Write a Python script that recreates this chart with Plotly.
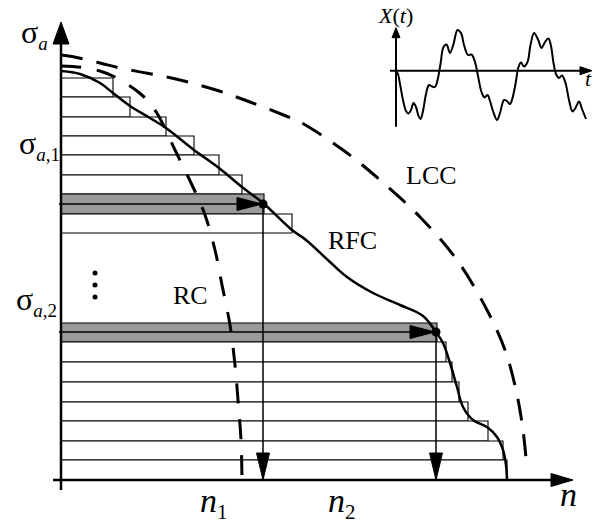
import plotly.graph_objects as go

# ---------------- data (chart units: n to the right, sigma upward) ----------------
# upper block of rectangles: row edges (top -> bottom) and lengths
upper_edges = [402, 383, 363, 344, 325, 305, 286, 266, 247]
upper_lengths = [52, 69, 105, 133, 158, 181, 203, 231]
upper_gray = [False, False, False, False, False, False, True, False]
# lower block of rectangles
lower_edges = [157, 138, 118, 98, 78, 59, 39, 20, 0]
lower_lengths = [376, 385, 391, 398, 407, 427, 442, 446]
lower_gray = [True, False, False, False, False, False, False, False]

# curves
rfc_n = [0.5, 19, 39, 52, 69, 89, 105, 133, 158, 181, 202, 231, 245, 269, 286, 312, 339, 362, 375, 382, 389, 396, 402, 412, 426, 436, 442, 445, 446]
rfc_s = [409, 406, 397, 387, 374, 362, 352, 330, 312, 293, 277, 250, 240, 218, 203, 187, 175, 164, 148, 137, 117, 93, 73, 60, 53, 43, 30, 15, 0]
rc_n = [0, 22, 39, 54, 66, 76, 86, 97, 115, 131, 144, 154, 161, 169, 174, 177, 180, 181]
rc_s = [414, 412.5, 409, 403, 396, 389, 380, 365, 328, 295, 265, 230, 195, 155, 115, 80, 40, 0]
lcc_n = [0, 11, 39, 59, 85, 119, 155, 189, 225, 239, 282, 319, 359, 396, 426, 444, 455, 462, 466]
lcc_s = [425, 423.5, 417, 412, 407, 400, 390, 378, 364, 358, 330, 300, 263, 220, 170, 130, 90, 50, 10]

# cycle points (n1, sigma_a1) and (n2, sigma_a2)
cycle_n = [202, 375]
cycle_s = [276, 148]

# inset signal X(t)
inset_t = [0, 2, 4, 7, 10, 12.5, 15, 17.5, 20, 22.5, 24.5, 27, 30, 33, 36, 39, 42, 44.5, 47.5, 50.5,
           54, 57.5, 61.5, 65, 68, 72, 75.5, 79, 82, 85.5, 88.5, 91.5, 94, 97, 101, 104, 108, 111,
           114, 116.5, 119.5, 122.5, 125, 128, 131.5, 134.5, 138, 142, 145.5, 149, 152.5, 155,
           157.5, 160, 163, 166, 169.5, 173, 176.5, 179.5, 183, 186, 190]
inset_x = [0.2, -3.3, -13.3, -29.3, -40.3, -42.8, -39.3, -32.3, -36.3, -45.3, -48.3, -40.3, -23.3,
           -14.3, -15.8, -16.3, -7.3, 6.7, 23.7, 26.2, 17.7, 26.7, 40.7, 37.7, 25.7, 15.7, 16.2, 8.7,
           -5.3, -21.3, -26.8, -24.3, -30.3, -40.3, -49.3, -42.3, -29.3, -30.3, -33.3, -27.3, -13.3,
           3.7, 8.2, 4.2, 8.7, 25.7, 37.7, 31.2, 22.7, 28.7, 32.2, 24.7, 7.7, -3.3, -7.3, -4.8,
           -12.3, -29.3, -40.8, -37.3, -30.8, -38.3, -48.3]
inset_origin = (335, 409.3)

GRAY = "#9a9a9c"
FONT = "Liberation Serif"

fig = go.Figure()

# ---------------- rectangles as horizontal bars ----------------
def add_block(edges, lengths, gray):
    centers = [(edges[i] + edges[i + 1]) / 2 for i in range(len(lengths))]
    widths = [edges[i] - edges[i + 1] for i in range(len(lengths))]
    fig.add_trace(go.Bar(
        orientation="h", y=centers, x=lengths, width=widths, base=0,
        marker=dict(color=[GRAY if g else "white" for g in gray],
                    line=dict(color="black", width=1.1)),
        hoverinfo="skip", showlegend=False))

add_block(upper_edges, upper_lengths, upper_gray)
add_block(lower_edges, lower_lengths, lower_gray)

# ---------------- curves ----------------
fig.add_trace(go.Scatter(x=lcc_n, y=lcc_s, mode="lines",
                         line=dict(color="black", width=3, dash="22px,14px", shape="spline"),
                         hoverinfo="skip", showlegend=False))
fig.add_trace(go.Scatter(x=rc_n, y=rc_s, mode="lines",
                         line=dict(color="black", width=3, dash="20px,16px", shape="spline"),
                         hoverinfo="skip", showlegend=False))
fig.add_trace(go.Scatter(x=rfc_n, y=rfc_s, mode="lines",
                         line=dict(color="black", width=2.5, shape="spline"),
                         hoverinfo="skip", showlegend=False))


def line(xs, ys, w):
    fig.add_trace(go.Scatter(x=xs, y=ys, mode="lines", line=dict(color="black", width=w),
                             hoverinfo="skip", showlegend=False))


def head(tip, d, length, half):
    tx, ty = tip
    dx, dy = d
    px, py = -dy, dx
    bx, by = tx - dx * length, ty - dy * length
    xs = [tx, bx + px * half, bx - px * half, tx]
    ys = [ty, by + py * half, by - py * half, ty]
    fig.add_trace(go.Scatter(x=xs, y=ys, mode="lines", fill="toself", fillcolor="black",
                             line=dict(color="black", width=1), hoverinfo="skip", showlegend=False))


# arrows from the cycle points
for cn, cs in zip(cycle_n, cycle_s):
    line([-2, cn], [cs, cs], 1.5)
    head((cn - 1, cs), (1, 0), 25, 6.5)
    line([cn, cn], [cs, 0], 1.5)
    head((cn, 0), (0, -1), 27, 6.5)
fig.add_trace(go.Scatter(x=cycle_n, y=cycle_s, mode="markers",
                         marker=dict(color="black", size=9), hoverinfo="skip", showlegend=False))

# ellipsis dots
fig.add_trace(go.Scatter(x=[34, 34, 34], y=[207, 195, 183], mode="markers",
                         marker=dict(color="black", size=5), hoverinfo="skip", showlegend=False))

# main axes
line([0, 0], [-10, 440], 2.5)
head((0, 458), (0, 1), 22, 8)
line([-8, 490], [0, 0], 2.5)
head((512, 0), (1, 0), 22, 6.5)

# ---------------- inset ----------------
ox, oy = inset_origin
fig.add_trace(go.Scatter(x=[t + ox for t in inset_t], y=[v + oy for v in inset_x], mode="lines",
                         line=dict(color="black", width=2, shape="spline"),
                         hoverinfo="skip", showlegend=False))
line([ox, ox], [oy - 56, oy + 36], 2)
head((ox, oy + 43), (0, 1), 10, 4)
line([ox - 6, ox + 188], [oy, oy], 2)
head((ox + 196, oy), (1, 0), 12, 4)

# ---------------- labels ----------------
def label(x, y, text, size, xanchor="center"):
    fig.add_annotation(x=x, y=y, text=text, showarrow=False, xanchor=xanchor, yanchor="middle",
                       font=dict(family=FONT, size=size, color="black"))


def sub(t, size=19):
    return "<sub><span style='font-size:%dpx'>%s</span></sub>" % (size, t)


label(-42, 446, "σ" + sub("<i>a</i>"), 32, "left")
label(-44, 335, "σ" + sub("<i>a</i>,1"), 32, "left")
label(-47, 179, "σ" + sub("<i>a</i>,2"), 32, "left")
label(129, 185, "RC", 26)
label(291, 240, "RFC", 26)
label(370, 305, "LCC", 26)
label(137, -23, "<i>n</i>" + sub("1", 21), 34, "left")
label(265, -23, "<i>n</i>" + sub("2", 21), 34, "left")
label(507, -14, "<i>n</i>", 34)
label(334, 465, "<i>X</i>(<i>t</i>)", 22)
label(527, 402, "<i>t</i>", 22)

fig.update_layout(
    width=597, height=522, margin=dict(l=0, r=0, t=0, b=0),
    paper_bgcolor="white", plot_bgcolor="white", barmode="overlay",
    xaxis=dict(range=[-61, 536], visible=False, fixedrange=True),
    yaxis=dict(range=[-42, 480], visible=False, fixedrange=True),
    showlegend=False,
)

fig.write_html("out.html", config={"displayModeBar": False},
               post_script="document.body.style.margin='0px';")
